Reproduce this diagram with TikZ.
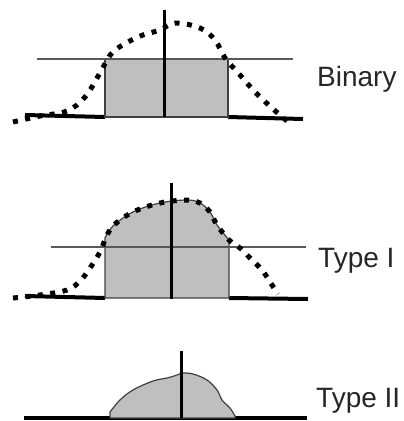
\documentclass[tikz,border=0pt]{standalone}
\usepackage{fontspec}
\setmainfont{Liberation Sans}
\usepackage{tikz}

\begin{document}
\begin{tikzpicture}[
  x=1pt, y=-1pt,
  every node/.style={font=\fontsize{28}{30}\selectfont, text=black!85},
  thinline/.style={draw=black!65, line width=1.4pt},
  groundline/.style={draw=black, line width=4pt},
  axisline/.style={draw=black, line width=3pt},
  graybox/.style={fill=black!25, draw=black!75, line width=1.2pt},
  dotcurve/.style={draw=black, line width=5pt, dash pattern=on 5pt off 7.5pt}
]
  \useasboundingbox (0,0) rectangle (404,421);

  % Binary
  \draw[groundline] (25,115) -- (105,117);
  \draw[groundline] (228,117) -- (303,119);
  \draw[graybox] (105,59) rectangle (228,117);
  \draw[thinline] (37,59) -- (293,59);
  \draw[axisline] (164,10) -- (164,117);
  \draw[dotcurve] plot[smooth, tension=0.6] coordinates {(13,122) (40,116) (67,111)
    (85,97) (100,73) (113,52) (138,37) (160,30) (175,23) (200,28) (215,40)
    (225,58) (240,75) (255,92) (272,108) (287,121)};
  \node[anchor=base west, inner sep=0] (binary) at (317,86) {Binary};

  % Type I
  \draw[groundline] (25,296) -- (105,298);
  \draw[groundline] (229,298) -- (308,299);
  \draw[graybox] (105,298) -- (105,238)
    -- plot[smooth, tension=0.6] coordinates {(105,238) (113,226) (133,212)
    (160,203) (187,200) (200,203) (210,212) (217,225) (229,240)}
    -- (229,298) -- cycle;
  \draw[thinline] (51,247) -- (306,247);
  \draw[axisline] (171,183) -- (171,299);
  \draw[dotcurve] plot[smooth, tension=0.6] coordinates {(13,298) (40,295) (67,290)
    (80,281) (90,268) (100,252) (105,240) (113,226) (133,212) (160,203)
    (187,200) (200,203) (210,212) (217,225) (229,240) (240,248) (250,258)
    (262,270) (270,282) (278,294)};
  \node[anchor=base west, inner sep=0] (typeone) at (318,267) {Type I};

  % Type II
  \draw[groundline] (24,418) -- (307,418);
  \draw[graybox] (110,418) -- (110,412)
    -- plot[smooth, tension=0.6] coordinates {(110,412) (120,400) (133,390)
    (153,381) (167,378) (177,375) (182,373) (193,374) (207,380) (217,390)
    (222,400) (230,408) (235,416)} -- (235,418) -- cycle;
  \draw[axisline] (181,351) -- (181,418);
  \node[anchor=base west, inner sep=0] (typetwo) at (316,407) {Type II};
\end{tikzpicture}
\end{document}
